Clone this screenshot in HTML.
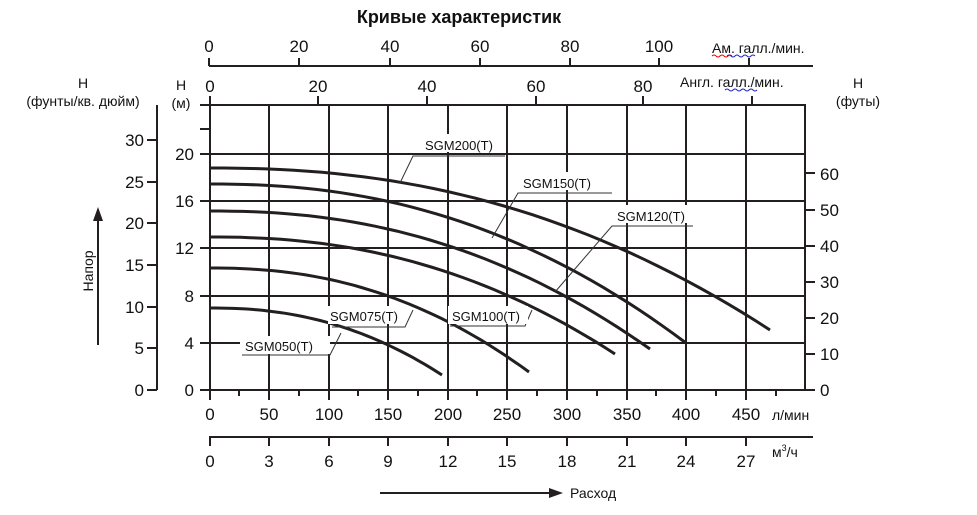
<!DOCTYPE html>
<html><head><meta charset="utf-8"><style>
body{margin:0;background:#fff}
svg{display:block;font-family:"Liberation Sans",Arial,sans-serif}
</style></head><body>
<svg width="977" height="515" viewBox="0 0 977 515" xmlns="http://www.w3.org/2000/svg">
<rect width="977" height="515" fill="#fff"/>
<text x="459" y="23" font-size="18" font-weight="bold" text-anchor="middle" fill="#111">Кривые характеристик</text>
<g stroke="#231f20" stroke-width="2" fill="none">
<line x1="209" y1="66" x2="813" y2="66"/>
<path d="M209 58V66M299 58V66M390 58V66M480 58V66M570 58V66M659 58V66M749 58V66"/>
<line x1="202" y1="105" x2="805" y2="105"/>
<path d="M210 96V105M318 96V105M427 96V105M536 96V105M643 96V105M752 96V105"/>
<rect x="210" y="105" width="595" height="285"/>
<path d="M210 343H805M210 296H805M210 248H805M210 201H805M210 154H805"/>
<path d="M269 105V390M329 105V390M388 105V390M448 105V390M507 105V390M567 105V390M627 105V390M686 105V390M746 105V390"/>
<path d="M200 390H210M200 343H210M200 296H210M200 248H210M200 201H210M200 154H210M200 129H210M200 105H210M202 105H210"/>
<path d="M210 390V400M239 390V396M269 390V400M299 390V396M329 390V400M358 390V396M388 390V400M418 390V396M448 390V400M477 390V396M507 390V400M537 390V396M567 390V400M597 390V396M627 390V400M656 390V396M686 390V400M716 390V396M746 390V400M776 390V396"/>
<line x1="209" y1="437" x2="813" y2="437"/>
<path d="M210 437V446M269 437V446M329 437V446M388 437V446M448 437V446M507 437V446M567 437V446M627 437V446M686 437V446M746 437V446"/>
<line x1="157" y1="105" x2="157" y2="390"/>
<path d="M147 390H157M147 348H157M147 307H157M147 265H157M147 223H157M147 182H157M147 140H157"/>
<path d="M805 390H815M805 354H815M805 318H815M805 282H815M805 246H815M805 210H815M805 173H815"/>
<g stroke-width="3" id="curves">
<path id="c1" d="M210 168 Q470 168 770 330"/>
<path id="c2" d="M210 184 Q440 186 686 343"/>
<path id="c3" d="M210 211 Q420 212 650 349"/>
<path id="c4" d="M210 237 Q400 238 615 354"/>
<path id="c5" d="M210 268 Q350 268 529 372"/>
<path id="c6" d="M210 308 Q330 310 442 375"/>
</g>
<line x1="98" y1="345" x2="98" y2="218"/>
<line x1="380" y1="493" x2="552" y2="493"/>
</g>
<path d="M98 207 L93 221 L103 221Z" fill="#231f20"/>
<path d="M563 493 L549 488 L549 498Z" fill="#231f20"/>
<g stroke="#333" stroke-width="1" fill="none">
<path d="M505 156H413L400 183"/>
<path d="M612 193H518L492 238"/>
<path d="M693 226H612L555 292"/>
<path d="M450 326H525L532 310"/>
<path d="M332 327H405L413 310"/>
<path d="M242 355H330L341 333"/>
</g>
<g font-size="13" fill="#111">
<rect x="420" y="134" width="86" height="18" fill="#fff"/>
<text x="425" y="150">SGM200(T)</text>
<rect x="518" y="172" width="92" height="18" fill="#fff"/>
<text x="523" y="188">SGM150(T)</text>
<rect x="612" y="205" width="80" height="18" fill="#fff"/>
<text x="617" y="221">SGM120(T)</text>
<rect x="448" y="306" width="80" height="18" fill="#fff"/>
<text x="452" y="321">SGM100(T)</text>
<rect x="328" y="306" width="78" height="18" fill="#fff"/>
<text x="330" y="321">SGM075(T)</text>
<rect x="240" y="336" width="90" height="18" fill="#fff"/>
<text x="245" y="351">SGM050(T)</text>
</g>
<g font-size="17" fill="#111" text-anchor="middle">
<text x="209" y="52">0</text><text x="299" y="52">20</text><text x="390" y="52">40</text><text x="480" y="52">60</text><text x="570" y="52">80</text><text x="659" y="52">100</text>
<text x="210" y="92">0</text><text x="318" y="92">20</text><text x="427" y="92">40</text><text x="536" y="92">60</text><text x="643" y="92">80</text>
<text x="210" y="420">0</text><text x="269" y="420">50</text><text x="329" y="420">100</text><text x="388" y="420">150</text><text x="448" y="420">200</text><text x="507" y="420">250</text><text x="567" y="420">300</text><text x="627" y="420">350</text><text x="686" y="420">400</text><text x="746" y="420">450</text>
<text x="210" y="467">0</text><text x="269" y="467">3</text><text x="329" y="467">6</text><text x="388" y="467">9</text><text x="448" y="467">12</text><text x="507" y="467">15</text><text x="567" y="467">18</text><text x="627" y="467">21</text><text x="686" y="467">24</text><text x="746" y="467">27</text>
</g>
<g font-size="17" fill="#111" text-anchor="end">
<text x="194" y="396">0</text><text x="194" y="349">4</text><text x="194" y="302">8</text><text x="194" y="254">12</text><text x="194" y="207">16</text><text x="194" y="160">20</text>
<text x="144" y="396">0</text><text x="144" y="354">5</text><text x="144" y="313">10</text><text x="144" y="271">15</text><text x="144" y="229">20</text><text x="144" y="188">25</text><text x="144" y="146">30</text>
</g>
<g font-size="17" fill="#111" text-anchor="start">
<text x="820" y="396">0</text><text x="820" y="360">10</text><text x="820" y="324">20</text><text x="820" y="288">30</text><text x="820" y="252">40</text><text x="820" y="216">50</text><text x="820" y="180">60</text>
</g>
<g font-size="14" fill="#111">
<text x="712" y="53">Ам. галл./мин.</text>
<text x="680" y="87">Англ. галл./мин.</text>
<text x="772" y="420">л/мин</text>
<text x="772" y="457">м<tspan font-size="9" dy="-6">3</tspan><tspan dy="6">/ч</tspan></text>
<text x="570" y="498">Расход</text>
<text x="83" y="88" text-anchor="middle">Н</text>
<text x="83" y="106" text-anchor="middle">(фунты/кв. дюйм)</text>
<text x="181" y="90" text-anchor="middle">Н</text>
<text x="181" y="108" text-anchor="middle">(м)</text>
<text x="858" y="88" text-anchor="middle">Н</text>
<text x="858" y="106" text-anchor="middle">(футы)</text>
<text x="0" y="0" text-anchor="middle" transform="translate(93,271) rotate(-90)">Напор</text>
</g>
<g stroke-width="1" fill="none">
<path d="M712 56q2 -2 4 0t4 0 4 0 4 0 4 0" stroke="#e00"/>
<path d="M727 56q2 -2 4 0t4 0 4 0 4 0 4 0 4 0 4 0" stroke="#22c"/>
<path d="M725 90q2 -2 4 0t4 0 4 0 4 0 4 0 4 0 4 0 4 0" stroke="#22c"/>
</g>
</svg>
<script>
var cs=[[168,770,330],[184,686,343],[211,650,349],[237,615,354],[268,529,372],[308,442,375]];
cs.forEach(function(c,i){var d="M210 "+c[0],L=c[1]-210,D=c[2]-c[0];
for(var k=1;k<=40;k++){var t=k/40;d+=" L"+(210+L*t).toFixed(1)+" "+(c[0]+D*Math.pow(t,2.25)).toFixed(1);}
document.getElementById("c"+(i+1)).setAttribute("d",d);});
</script>
</body></html>
